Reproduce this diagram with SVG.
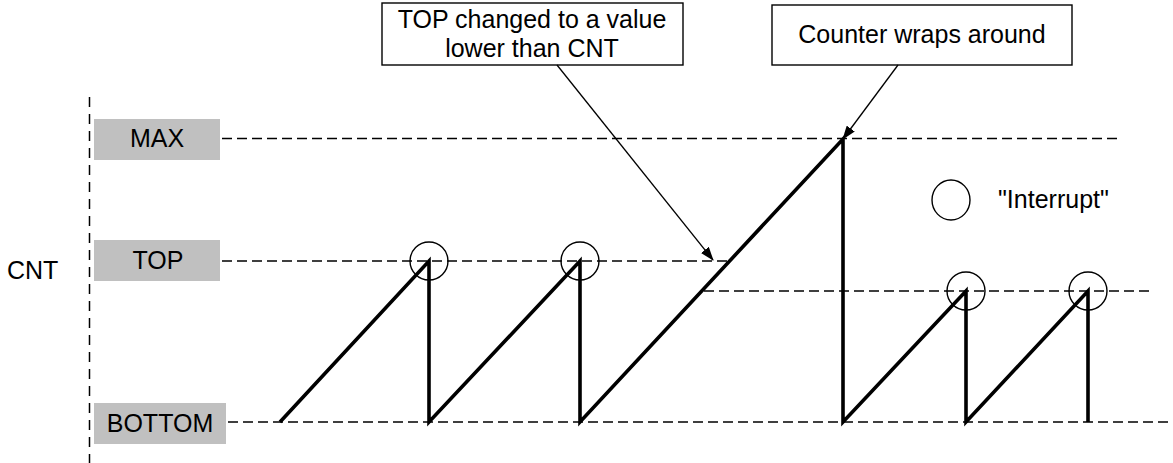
<svg xmlns="http://www.w3.org/2000/svg" width="1173" height="463" viewBox="0 0 1173 463">
<style>
text{font-family:"Liberation Sans",Arial,sans-serif;font-size:25px;fill:#000}
.lbl{fill:#c0c0c0;stroke:none}
.box{fill:#fff;stroke:#000;stroke-width:1.4}
.dash{stroke:#000;stroke-width:1.5;stroke-dasharray:10,5;fill:none}
.axis{stroke:#000;stroke-width:1.5;stroke-dasharray:10,7;fill:none}
.ramp{stroke:#000;stroke-width:3.6;fill:none;stroke-linejoin:miter}
.irq{fill:none;stroke:#000;stroke-width:1.4}
.arr{stroke:#000;stroke-width:1.3;fill:none}
</style>
<defs>
<marker id="ah" markerWidth="14" markerHeight="10" refX="13" refY="5" orient="auto" markerUnits="userSpaceOnUse">
<path d="M0,0 L14,5 L0,10 Z" fill="#000"/>
</marker>
</defs>
<rect width="1173" height="463" fill="#fff"/>
<g id="axis">
<line class="axis" x1="89.5" y1="97" x2="89.5" y2="463"/>
<text x="7" y="279">CNT</text>
</g>
<g id="levels">
<line class="dash" x1="222" y1="138.5" x2="1120" y2="138.5"/>
<line class="dash" x1="222" y1="261" x2="730" y2="261"/>
<line class="dash" x1="704" y1="291" x2="1152" y2="291"/>
<line class="dash" x1="228" y1="422" x2="1173" y2="422"/>
</g>
<g id="label-max">
<rect class="lbl" x="94" y="119" width="126" height="41"/>
<text x="157" y="147" text-anchor="middle">MAX</text>
</g>
<g id="label-top">
<rect class="lbl" x="94" y="240" width="126" height="41"/>
<text x="158" y="269" text-anchor="middle">TOP</text>
</g>
<g id="label-bottom">
<rect class="lbl" x="94" y="403" width="132" height="41"/>
<text x="160" y="432" text-anchor="middle">BOTTOM</text>
</g>
<g id="counter">
<polyline class="ramp" points="280,422 429,261 429,422 580,261 580,422 843,139 843,422 966,291 966,422 1088,291 1088,422"/>
</g>
<g id="interrupts">
<circle class="irq" cx="429" cy="261" r="19"/>
<circle class="irq" cx="580" cy="261" r="19"/>
<circle class="irq" cx="966" cy="291" r="19"/>
<circle class="irq" cx="1088" cy="291" r="19"/>
</g>
<g id="legend">
<ellipse class="irq" cx="951" cy="200" rx="19" ry="20"/>
<text x="998" y="208">"Interrupt"</text>
</g>
<g id="callout-top">
<rect class="box" x="382" y="3" width="301" height="62"/>
<text x="532" y="28" text-anchor="middle">TOP changed to a value</text>
<text x="532" y="57" text-anchor="middle">lower than CNT</text>
</g>
<g id="callout-wrap">
<rect class="box" x="772" y="5" width="300" height="60"/>
<text x="922" y="43" text-anchor="middle">Counter wraps around</text>
</g>
<g id="connectors">
<line class="arr" x1="557" y1="65" x2="713" y2="260" marker-end="url(#ah)"/>
<line class="arr" x1="898" y1="65" x2="843" y2="139" marker-end="url(#ah)"/>
</g>
</svg>
